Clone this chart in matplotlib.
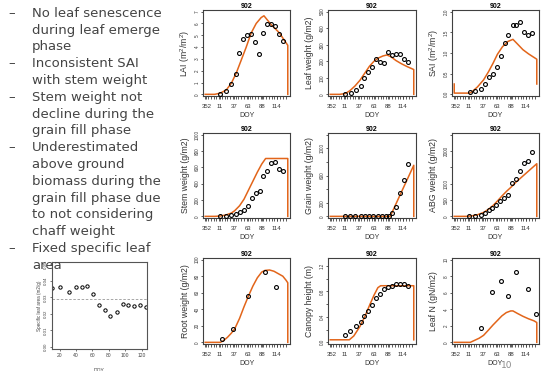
import numpy as np
import matplotlib
matplotlib.use('Agg')
import matplotlib.pyplot as plt

plt.rcParams['mathtext.fontset'] = 'custom'
plt.rcParams['mathtext.rm'] = 'Liberation Sans'

# x axis: days counted from DOY 352 of the previous year
doy_ticks = [0, 24, 50, 76, 101, 127]
doy_labels = ['352', '11', '37', '63', '88', '114']

# simulated (line) and observed (points) series
lai_sim_t = [-2, 15, 25, 36, 45, 54, 63, 72, 81, 90, 99, 104, 117, 132, 139, 147, 147]
lai_sim = [0, 0, 0.1, 0.37, 0.93, 1.8, 2.9, 4.0, 5.2, 6.0, 6.5, 6.65, 5.9, 5.2, 4.7, 4.15, 0]
lai_days = [25, 35, 45, 53, 59, 67, 74, 81, 88, 95, 103, 110, 117, 124, 131, 138]
lai_obs = [0.05, 0.25, 0.85, 1.7, 3.5, 4.65, 5.05, 5.15, 4.4, 3.4, 5.2, 5.95, 5.95, 5.75, 5.15, 4.5]

leafw_sim_t = [-2, 15, 25, 33, 42, 51, 60, 68, 76, 84, 92, 99, 106, 115, 125, 135, 147, 147]
leafw_sim = [0, 0, 5, 22, 50, 85, 130, 170, 200, 220, 232, 238, 228, 205, 185, 168, 150, 0]
leafw_days = [25, 35, 44, 52, 59, 66, 73, 80, 87, 94, 101, 108, 116, 123, 130, 137]
leafw_obs = [2, 8, 26, 50, 99, 135, 167, 214, 196, 187, 256, 238, 246, 244, 212, 196]

sai_sim_t = [-2, -2, 25, 30, 40, 51, 60, 68, 76, 85, 95, 104, 112, 122, 132, 140, 147, 147]
sai_sim = [0.25, 0.03, 0.03, 0.06, 0.18, 0.35, 0.55, 0.75, 0.97, 1.15, 1.28, 1.33, 1.22, 1.08, 0.98, 0.91, 0.85, 0.25]
sai_days = [26, 36, 46, 54, 61, 68, 75, 82, 89, 95, 104, 110, 117, 124, 131, 138]
sai_obs = [0.06, 0.09, 0.14, 0.24, 0.43, 0.50, 0.66, 0.92, 1.23, 1.43, 1.67, 1.67, 1.76, 1.51, 1.44, 1.48]

stem_sim_t = [-2, 15, 25, 35, 45, 51, 60, 68, 76, 84, 92, 100, 107, 147, 147]
stem_sim = [0, 0, 4, 16, 40, 68, 130, 210, 320, 430, 540, 640, 708, 708, 0]
stem_days = [25, 35, 45, 53, 60, 68, 75, 82, 89, 96, 103, 110, 117, 124, 131, 138]
stem_obs = [4, 8, 16, 24, 48, 84, 132, 224, 284, 308, 500, 560, 648, 668, 580, 560]

grain_sim_t = [-2, 105, 147, 147]
grain_sim = [0, 0, 750, 0]
grain_days = [24, 33, 43, 52, 60, 67, 75, 83, 90, 97, 103, 109, 115, 122, 129, 137]
grain_obs = [0, 0, 0, 0, 0, 0, 0, 0, 0, 0, 0, 53, 135, 341, 534, 774]

abg_sim_t = [-2, 20, 30, 40, 51, 60, 68, 76, 84, 92, 101, 110, 120, 130, 140, 147, 147]
abg_sim = [0, 0, 15, 50, 120, 220, 330, 470, 620, 760, 900, 1055, 1205, 1355, 1505, 1610, 0]
abg_days = [25, 36, 46, 54, 61, 67, 74, 81, 88, 95, 103, 110, 117, 124, 131, 138]
abg_obs = [10, 20, 50, 100, 190, 250, 340, 480, 550, 650, 1030, 1140, 1380, 1630, 1700, 1960]

root_sim_t = [-2, 25, 30, 38, 45, 51, 60, 68, 76, 84, 92, 100, 106, 114, 122, 130, 138, 144, 147, 147]
root_sim = [0, 0, 1.5, 6, 11, 16, 29, 43, 56, 68, 78, 85, 87, 87.5, 86, 83, 80, 75, 72, 0]
root_days = [29, 49, 76, 105, 126]
root_obs = [3.6, 15.7, 56, 85, 67]

canopy_sim_t = [-2, 32, 40, 51, 60, 69, 76, 83, 88, 147, 147]
canopy_sim = [0.04, 0.04, 0.1, 0.25, 0.41, 0.6, 0.74, 0.86, 0.89, 0.89, 0.04]
canopy_days = [25, 34, 44, 52, 59, 66, 73, 80, 87, 94, 101, 108, 116, 123, 130, 137]
canopy_obs = [0.11, 0.18, 0.25, 0.32, 0.41, 0.49, 0.59, 0.69, 0.76, 0.84, 0.87, 0.88, 0.92, 0.91, 0.91, 0.89]

leafn_sim_t = [-2, 27, 35, 43, 51, 60, 68, 76, 84, 92, 100, 104, 112, 122, 132, 142, 147, 147]
leafn_sim = [0, 0, 0.25, 0.5, 0.85, 1.5, 2.1, 2.65, 3.2, 3.6, 3.8, 3.8, 3.5, 3.15, 2.85, 2.6, 2.4, 0]
leafn_days = [46, 67, 82, 95, 110, 131, 145]
leafn_obs = [1.7, 6.1, 7.4, 5.6, 8.5, 6.5, 3.4]

# specific leaf area panel
sla_doy = [11, 21, 31, 40, 47, 53, 61, 68, 75, 82, 90, 97, 104, 111, 118, 125]
sla_obs = [0.0357, 0.0361, 0.0333, 0.0363, 0.0361, 0.0367, 0.0318, 0.0251,
           0.0222, 0.0186, 0.0208, 0.0259, 0.0251, 0.0245, 0.0253, 0.0241]
sla_fixed = 0.029

notes = [
    ('–', 'No leaf senescence'), ('', 'during leaf emerge'), ('', 'phase'),
    ('–', 'Inconsistent SAI'), ('', 'with stem weight'),
    ('–', 'Stem weight not'), ('', 'decline during the'), ('', 'grain fill phase'),
    ('–', 'Underestimated'), ('', 'above ground'), ('', 'biomass during the'),
    ('', 'grain fill phase due'), ('', 'to not considering'), ('', 'chaff weight'),
    ('–', 'Fixed specific leaf'), ('', 'area'),
]

W, H = 550, 371
ORANGE = '#e2651a'
SPINE = '#404040'
RFONT = 'Liberation Sans'

fig = plt.figure(figsize=(W / 100, H / 100), dpi=100)


def add_ax(left, top, right, bottom):
    return fig.add_axes([left / W, 1 - bottom / H, (right - left) / W, (bottom - top) / H])


def panel(box, sim_t, sim, days, obs, ylabel, top, yticks, ylabels):
    ax = add_ax(*box)
    ax.plot(sim_t, sim, color=ORANGE, lw=1.1, zorder=2)
    ax.plot(days, obs, 'o', ms=2.8, mfc='none', mec='black', mew=0.8, zorder=3)
    ax.set_xlim(-6, 151)
    ax.set_ylim(-0.02 * top, 1.02 * top)
    ax.set_xticks(doy_ticks)
    ax.set_xticklabels(doy_labels, fontsize=4.3, family=RFONT, color='#333333')
    ax.set_xticks(np.arange(-2, 148, 5), minor=True)
    ax.set_yticks(yticks)
    ax.set_yticklabels(ylabels, fontsize=3.3, family=RFONT, rotation=90, va='center', color='#333333')
    ax.tick_params(axis='x', which='both', length=2, width=0.6, pad=4, color=SPINE)
    ax.tick_params(axis='y', length=1.5, width=0.6, pad=1, color=SPINE)
    for s in ax.spines.values():
        s.set_color(SPINE)
        s.set_linewidth(0.8)
    ax.set_title('902', fontsize=5, fontweight='bold', family=RFONT, pad=1.5)
    ax.set_xlabel('DOY', fontsize=5, family=RFONT, va='center', color='#333333')
    ax.xaxis.set_label_coords(0.5, -19.5 / (box[3] - box[1]))
    ax.set_ylabel(ylabel, fontsize=6.3, family=RFONT, va='center', color='#333333')
    ax.yaxis.set_label_coords(-18 / (box[2] - box[0]), 0.5)
    return ax


cols = [(203, 290), (328, 416), (452, 539)]
rows = [(10, 96), (133, 218), (258, 344)]


def box(r, c):
    return (cols[c][0], rows[r][0], cols[c][1], rows[r][1])


panel(box(0, 0), lai_sim_t, lai_sim, lai_days, lai_obs, r'LAI $(\mathrm{m}^2/\mathrm{m}^2)$', 7,
      range(8), [str(v) for v in range(8)])
panel(box(0, 1), leafw_sim_t, leafw_sim, leafw_days, leafw_obs, 'Leaf weight (g/m2)', 500,
      range(0, 501, 100), ['0', '100', '200', '300', '400', '500'])
panel(box(0, 2), sai_sim_t, sai_sim, sai_days, sai_obs, r'SAI $(\mathrm{m}^2/\mathrm{m}^2)$', 2.0,
      [0, 0.5, 1.0, 1.5, 2.0], ['0.0', '0.5', '1.0', '1.5', '2.0'])
panel(box(1, 0), stem_sim_t, stem_sim, stem_days, stem_obs, 'Stem weight (g/m2)', 1000,
      range(0, 1001, 200), ['0', '200', '400', '600', '800', '1000'])
panel(box(1, 1), grain_sim_t, grain_sim, grain_days, grain_obs, 'Grain weight (g/m2)', 1200,
      range(0, 1201, 200), ['0', '200', '', '600', '', '1000', ''])
panel(box(1, 2), abg_sim_t, abg_sim, abg_days, abg_obs, 'ABG weight (g/m2)', 2500,
      range(0, 2501, 500), ['0', '500', '1000', '', '2000', ''])
panel(box(2, 0), root_sim_t, root_sim, root_days, root_obs, 'Root weight (g/m2)', 100,
      range(0, 101, 20), ['0', '20', '40', '60', '80', '100'])
panel(box(2, 1), canopy_sim_t, canopy_sim, canopy_days, canopy_obs, 'Canopy height (m)', 1.3,
      [0, 0.2, 0.4, 0.6, 0.8, 1.0, 1.2], ['0.0', '', '0.4', '', '0.8', '', '1.2'])
panel(box(2, 2), leafn_sim_t, leafn_sim, leafn_days, leafn_obs, 'Leaf N (gN/m2)', 10,
      range(0, 11, 2), ['0', '2', '4', '6', '8', '10'])

# small SLA plot bottom left
ax = add_ax(52, 262, 147, 349)
ax.axhline(sla_fixed, color='#999999', lw=0.6, ls=(0, (3, 2)))
ax.plot(sla_doy, sla_obs, 'o', ms=2.4, mfc='none', mec='black', mew=0.7)
ax.set_xlim(10.7, 126.6)
ax.set_ylim(-0.0014, 0.0515)
ax.set_xticks(range(20, 121, 20))
ax.set_xticklabels([str(v) for v in range(20, 121, 20)], fontsize=3.6, family=RFONT, color='#444444')
ax.set_yticks([0, 0.01, 0.02, 0.03, 0.04, 0.05])
ax.set_yticklabels(['0.00', '0.01', '0.02', '0.03', '0.04', '0.05'], fontsize=3.2,
                   family=RFONT, rotation=90, va='center', color='#444444')
ax.tick_params(axis='both', length=1.5, width=0.5, pad=1.5, color=SPINE)
for s in ax.spines.values():
    s.set_color('#555555')
    s.set_linewidth(0.8)
ax.set_ylabel('Specific leaf area (m2/g)', fontsize=3.3, family=RFONT, color='#444444')
ax.yaxis.set_label_coords(-10 / 95, 0.5)
ax.set_xlabel('DOY', fontsize=3.6, family=RFONT, color='#444444', va='center')
ax.xaxis.set_label_coords(0.5, -21 / 87)

# bullet notes on the left
for i, (dash, line) in enumerate(notes):
    y = 13.3 + 16.8 * i
    if dash:
        fig.text(8 / W, 1 - y / H, dash, fontsize=9.5, color='#444444', va='center', ha='left')
    fig.text(32 / W, 1 - y / H, line, fontsize=9.5, color='#444444', va='center', ha='left')

# slide number
fig.text(507 / W, 1 - 366 / H, '10', fontsize=6.5, color='#8a8a8a', ha='center', va='center')

fig.savefig('out.png', dpi=100)
